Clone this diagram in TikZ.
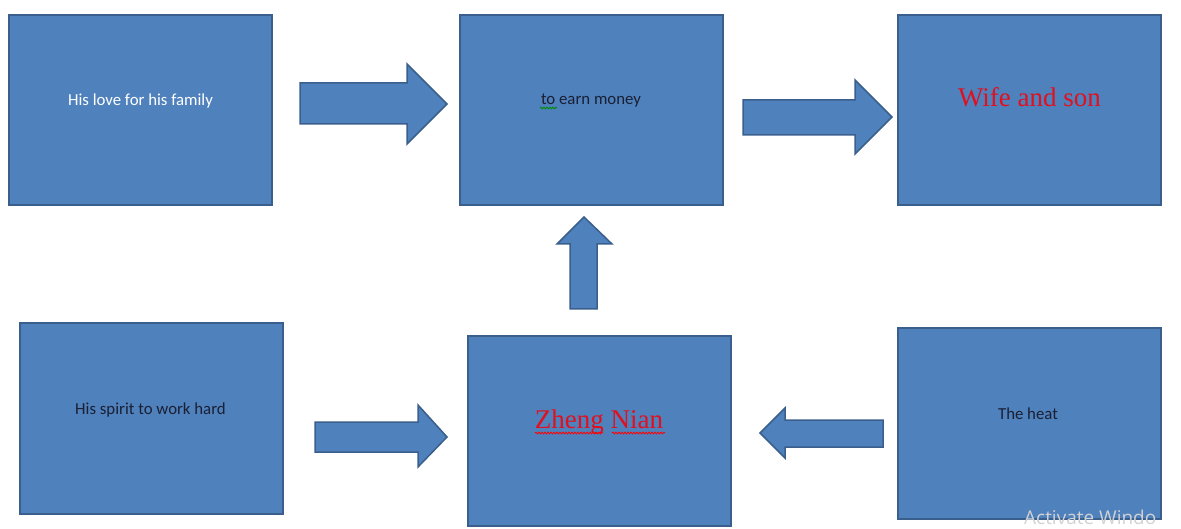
\documentclass[tikz,border=0pt]{standalone}
\usepackage{fontspec}
\setmainfont{Liberation Serif}
\newfontfamily\calib{Carlito}
\newfontfamily\wmfont{Open Sans}
\usetikzlibrary{decorations.pathmorphing}
\definecolor{boxblue}{HTML}{4F81BD}
\definecolor{boxedge}{HTML}{3A5F8C}
\definecolor{darktext}{HTML}{1A1F33}
\definecolor{redtext}{HTML}{E0101E}
\definecolor{wmgrey}{HTML}{D2D2D2}
\tikzset{
  box/.style={rectangle, fill=boxblue, draw=boxedge, line width=2pt,
    minimum width=263pt, minimum height=190pt, inner sep=0pt, outer sep=0pt},
  sanslbl/.style={anchor=base, inner sep=0pt, font=\calib\fontsize{16.8}{20}\selectfont},
  seriflbl/.style={anchor=base, inner sep=0pt, text=redtext, font=\fontsize{27}{32}\selectfont},
  blockarrow/.style={fill=boxblue, draw=boxedge, line width=1.5pt, line join=miter},
  squiggle/.style={line width=0.8pt, decorate, decoration={snake, segment length=3pt, amplitude=0.9pt}}
}
\begin{document}
\begin{tikzpicture}[x=1pt, y=-1pt]
\useasboundingbox (0,0) rectangle (1181,529);
% boxes
\node[box] (b1) at (140.5,110) {};
\node[box] (b2) at (591.5,110) {};
\node[box] (b3) at (1029,110) {};
\node[box] (b4) at (151,418.5) {};
\node[box] (b5) at (599.5,431) {};
\node[box] (b6) at (1029,423.5) {};
% labels
\node[sanslbl, text=white] (t1) at (140.5,106) {His love for his family};
\node[sanslbl, text=darktext] (t2) at (591,105) {to earn money};
\node[seriflbl] (t3) at (1029.5,107) {Wife and son};
\node[sanslbl, text=darktext] (t4) at (150.5,414) {His spirit to work hard};
\node[seriflbl] (t5) at (599,428) {Zheng Nian};
\node[sanslbl, text=darktext] (t6) at (1028,419) {The heat};
% spell-check squiggles
\draw[squiggle, green!55!black] (540,108) -- (557,108);
\draw[squiggle, red] (535,433) -- (603,433);
\draw[squiggle, red] (612,433) -- (665,433);
% block arrows
\draw[blockarrow] (300,83) -- (407,83) -- (407,64) -- (447,104) -- (407,144) -- (407,124) -- (300,124) -- cycle;
\draw[blockarrow] (743,100) -- (855,100) -- (855,80) -- (892,117) -- (855,154) -- (855,135) -- (743,135) -- cycle;
\draw[blockarrow] (570,309) -- (570,244) -- (557,244) -- (584,217) -- (612,244) -- (597,244) -- (597,309) -- cycle;
\draw[blockarrow] (315,422) -- (418,422) -- (418,405) -- (447,437) -- (418,467) -- (418,452) -- (315,452) -- cycle;
\draw[blockarrow] (883,420) -- (785,420) -- (785,408) -- (760,433) -- (785,458) -- (785,447) -- (883,447) -- cycle;
% watermark
\node[anchor=base west, inner sep=0pt, text=wmgrey, font=\wmfont\fontsize{19}{22}\selectfont] (wm) at (1024,524) {Activate Windo};
\end{tikzpicture}
\end{document}
